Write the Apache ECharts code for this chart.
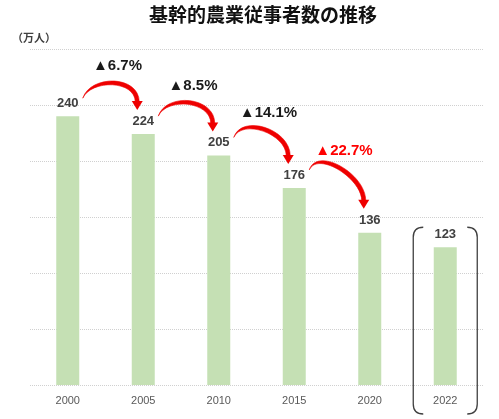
<!DOCTYPE html>
<html>
<head>
<meta charset="utf-8">
<script src="https://cdn.jsdelivr.net/npm/echarts@6/dist/echarts.min.js"></script>
<style>
  html, body { margin: 0; padding: 0; background: #fff; }
  #chart { width: 499px; height: 419px; }
</style>
</head>
<body>
<div id="chart"></div>
<script>
const years = ['2000', '2005', '2010', '2015', '2020', '2022'];
const workers = [240, 224, 205, 176, 136, 123];
const changeLabels = ['▲6.7%', '▲8.5%', '▲14.1%', '▲22.7%'];
const changeColors = ['#1a1a1a', '#1a1a1a', '#1a1a1a', '#ff0000'];

const arrowData = changeLabels.map((t, i) => [i, workers[i], workers[i + 1], t]);
const lastIdx = years.length - 1;

const ARROW_RED = '#ee0000';
const numFont = '"Liberation Sans", Arial, sans-serif';
const cjkFont = '"Noto Sans CJK JP", sans-serif';

const renderArrow = function(params, api) {
  const i = api.value(0);
  const p0 = api.coord([i, api.value(1)]);
  const p1 = api.coord([i + 1, api.value(2)]);
  const s = [p0[0] + 15, p0[1] - 18];
  const tip = [p1[0] - 6, p1[1] - 24];
  const b = [tip[0], tip[1] - 8];
  const c1 = [s[0] + 8, s[1] - 22];
  const c2 = [b[0], b[1] - 26];
  const body =
    `M${s[0]} ${s[1]} C${c1[0]} ${c1[1] - 2} ${c2[0] + 2} ${c2[1] - 1} ${b[0] + 2} ${b[1]}` +
    ` L${b[0] - 2} ${b[1]} C${c2[0] - 2} ${c2[1] + 4} ${c1[0] + 1} ${c1[1] + 3} ${s[0]} ${s[1]} Z`;
  const idx = params.dataIndex;
  return {
    type: 'group',
    children: [
      {
        type: 'path',
        shape: { pathData: body },
        style: { fill: ARROW_RED, stroke: ARROW_RED, lineWidth: 0.6 }
      },
      {
        type: 'polygon',
        shape: {
          points: [[b[0] - 5.5, b[1] - 1], [b[0] + 5.5, b[1] - 1], [tip[0], tip[1]]]
        },
        style: { fill: ARROW_RED }
      },
      {
        type: 'text',
        x: (p0[0] + p1[0]) / 2 + 12,
        y: (p0[1] + p1[1]) / 2 - 59,
        style: {
          text: api.value(3),
          fill: changeColors[idx],
          font: `bold 15px ${numFont}`,
          align: 'center',
          verticalAlign: 'middle'
        }
      }
    ]
  };
};

const renderBracket = function(params, api) {
  const p = api.coord([api.value(0), api.value(1)]);
  const base = api.coord([api.value(0), 0]);
  const l = p[0] - 32;
  const r = p[0] + 32;
  const t = p[1] - 20;
  const btm = base[1] + 29;
  const h = 10;
  const style = { fill: 'none', stroke: '#404040', lineWidth: 1.3 };
  return {
    type: 'group',
    children: [
      {
        type: 'path',
        shape: {
          pathData: `M${l + h} ${t} Q${l} ${t} ${l} ${t + h} L${l} ${btm - h} Q${l} ${btm} ${l + h} ${btm}`
        },
        style
      },
      {
        type: 'path',
        shape: {
          pathData: `M${r - h} ${t} Q${r} ${t} ${r} ${t + h} L${r} ${btm - h} Q${r} ${btm} ${r - h} ${btm}`
        },
        style
      }
    ]
  };
};

const myChart = echarts.init(document.querySelector('#chart'));

const option = {
  animation: false,
  title: [
    {
      text: '基幹的農業従事者数の推移',
      left: 149,
      top: 5,
      padding: 0,
      textStyle: { fontFamily: cjkFont, fontSize: 19, fontWeight: 'bold', color: '#111' }
    },
    {
      text: '（万人）',
      left: 12,
      top: 32,
      padding: 0,
      textStyle: { fontFamily: cjkFont, fontSize: 11, fontWeight: 'bold', color: '#404040' }
    }
  ],
  grid: { left: 30, right: 16, top: 49, bottom: 34 },
  xAxis: {
    type: 'category',
    data: years,
    axisLine: { show: false },
    axisTick: { show: false },
    axisLabel: { color: '#595959', fontSize: 11, fontFamily: numFont, margin: 10 }
  },
  yAxis: {
    type: 'value',
    min: 0,
    max: 300,
    interval: 50,
    axisLabel: { show: false },
    axisLine: { show: false },
    axisTick: { show: false },
    splitLine: { lineStyle: { color: '#d0d0d0', type: 'dotted', width: 1 } }
  },
  series: [
    {
      type: 'bar',
      data: workers,
      barWidth: 23,
      itemStyle: { color: '#c5e0b4' },
      label: {
        show: true,
        position: 'top',
        distance: 6,
        color: '#404040',
        fontSize: 13,
        fontWeight: 'bold',
        fontFamily: numFont
      }
    },
    {
      type: 'custom',
      renderItem: renderArrow,
      data: arrowData,
      encode: { x: 0, y: 1 },
      clip: false,
      z: 5
    },
    {
      type: 'custom',
      renderItem: renderBracket,
      data: [[lastIdx, workers[lastIdx]]],
      encode: { x: 0, y: 1 },
      clip: false,
      z: 5
    }
  ]
};

myChart.setOption(option);

window.addEventListener('resize', function() {
  myChart.resize();
});
</script>
</body>
</html>
